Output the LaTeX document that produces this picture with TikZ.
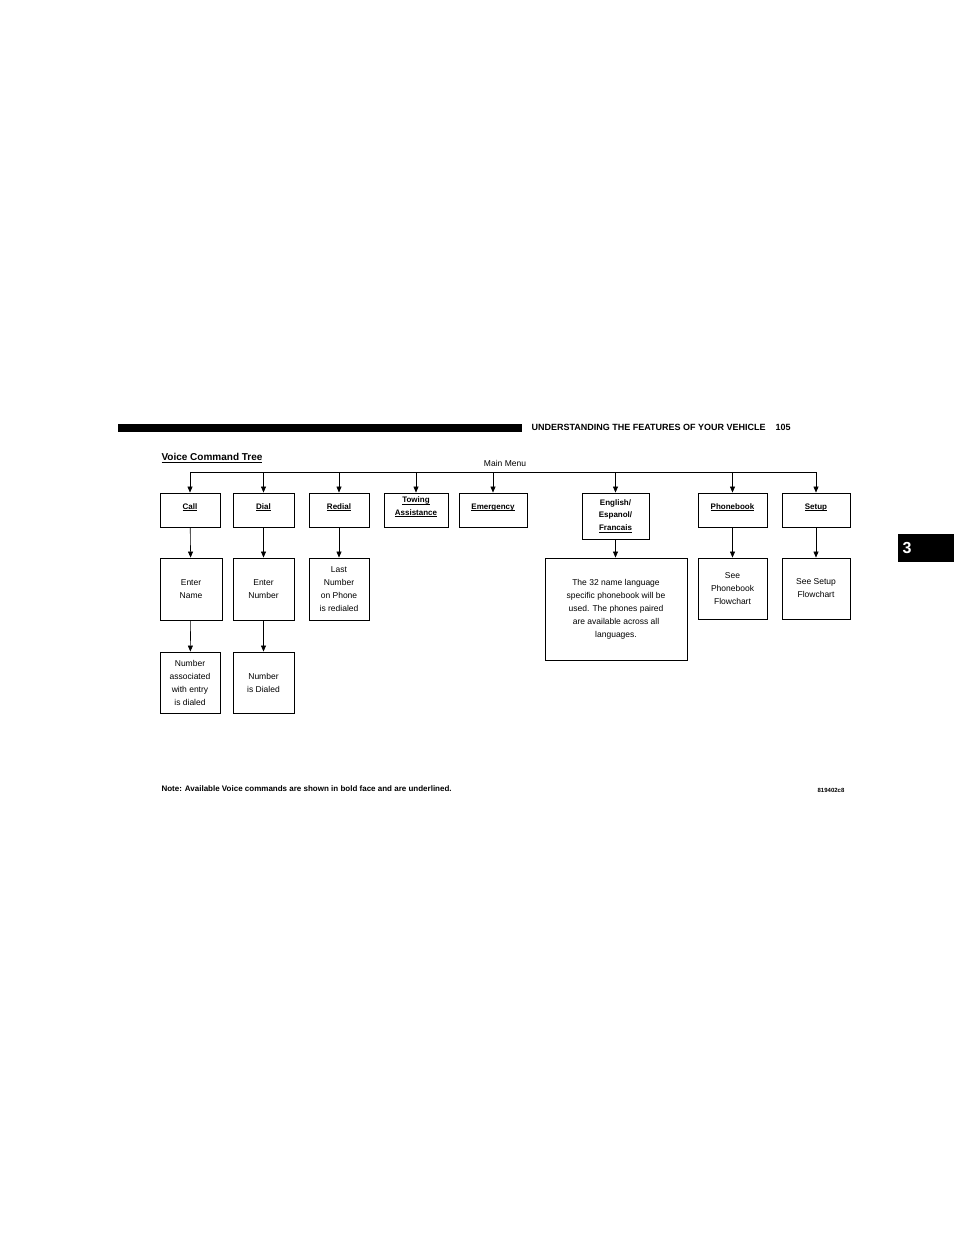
\documentclass[tikz,border=0pt]{standalone}
\usepackage{fontspec}
\setmainfont{Liberation Sans}
\usepackage{tikz}
\usetikzlibrary{arrows.meta}
\newcommand{\ulcmd}[1]{\underline{\smash{#1}}}
\tikzset{
  box/.style={draw, line width=0.9pt, inner sep=0pt, align=center,
    font=\fontsize{8.5}{13}\selectfont},
  cmd/.style={box, font=\fontsize{8}{12.5}\selectfont\bfseries},
  tip/.style={-{Triangle[length=6pt,width=5pt]}, line width=0.6pt}
}
\begin{document}
\begin{tikzpicture}[x=1pt,y=-1pt]
  \useasboundingbox (0,0) rectangle (954,1235);
  % header
  \fill (118,424) rectangle (522,432);
  \node[anchor=west, font=\fontsize{9}{10}\selectfont\bfseries] (head) at (528,427.5)
    {UNDERSTANDING THE FEATURES OF YOUR VEHICLE\hspace{10pt}105};
  \fill (898,534) rectangle (954,562);
  \node[white, font=\fontsize{16}{18}\selectfont\bfseries] (tab) at (907,548) {3};
  \node[anchor=west, font=\fontsize{10}{12}\selectfont\bfseries] (title) at (158,458)
    {\underline{Voice Command Tree}};
  \node[font=\fontsize{8.5}{10}\selectfont] (main) at (505,463) {Main Menu};
  % first row
  \node[cmd, minimum width=60pt, minimum height=34pt] (call) at (190,510) {\ulcmd{Call}};
  \node[cmd, minimum width=61pt, minimum height=34pt] (dial) at (263.5,510) {\ulcmd{Dial}};
  \node[cmd, minimum width=60pt, minimum height=34pt] (redial) at (339,510) {\ulcmd{Redial}};
  \node[cmd, minimum width=64pt, minimum height=34pt] (tow) at (416,510) {\ulcmd{Towing}\\\ulcmd{Assistance}};
  \node[cmd, minimum width=68pt, minimum height=34pt] (emerg) at (493,510) {\ulcmd{Emergency}};
  \node[cmd, minimum width=67pt, minimum height=46pt] (lang) at (615.5,516) {English/\\Espanol/\\\ulcmd{Francais}};
  \node[cmd, minimum width=69pt, minimum height=34pt] (phone) at (732.5,510) {\ulcmd{Phonebook}};
  \node[cmd, minimum width=68pt, minimum height=34pt] (setup) at (816,510) {\ulcmd{Setup}};
  % second row
  \node[box, minimum width=62pt, minimum height=62pt] (name) at (191,589) {Enter\\Name};
  \node[box, minimum width=61pt, minimum height=62pt] (number) at (263.5,589) {Enter\\Number};
  \node[box, minimum width=60pt, minimum height=62pt] (last) at (339,589) {Last\\Number\\on Phone\\is redialed};
  \node[box, minimum width=142pt, minimum height=102pt] (info) at (616,609)
    {The 32 name language\\specific phonebook will be\\used. The phones paired\\are available across all\\languages.};
  \node[box, minimum width=69pt, minimum height=61pt] (seephone) at (732.5,588.5) {See\\Phonebook\\Flowchart};
  \node[box, minimum width=68pt, minimum height=61pt] (seesetup) at (816,588.5) {See Setup\\Flowchart};
  % third row
  \node[box, minimum width=60pt, minimum height=61pt] (assoc) at (190,682.5) {Number\\associated\\with entry\\is dialed};
  \node[box, minimum width=61pt, minimum height=61pt] (dialed) at (263.5,682.5) {Number\\is Dialed};
  % main menu bus
  \coordinate (busl) at (call.north |- 0,472);
  \coordinate (busr) at (setup.north |- 0,472);
  \draw[line width=0.8pt] (busl) -- (busr);
  \foreach \n in {call,dial,redial,tow,emerg,lang,phone,setup}
    \draw[tip] (\n.north |- 0,472) -- (\n.north);
  % branches
  \draw[tip] (call) -- (name);
  \draw[tip] (name) -- (assoc);
  \draw[tip] (dial) -- (number);
  \draw[tip] (number) -- (dialed);
  \draw[tip] (redial) -- (last);
  \draw[tip] (lang) -- (lang.south |- info.north);
  \draw[tip] (phone) -- (seephone);
  \draw[tip] (setup) -- (seesetup);
  % footer
  \node[anchor=west, font=\fontsize{8}{10}\selectfont\bfseries] (note) at (158,789)
    {Note: Available Voice commands are shown in bold face and are underlined.};
  \node[font=\fontsize{6}{8}\selectfont\bfseries] (code) at (831,790) {819402c8};
\end{tikzpicture}
\end{document}
